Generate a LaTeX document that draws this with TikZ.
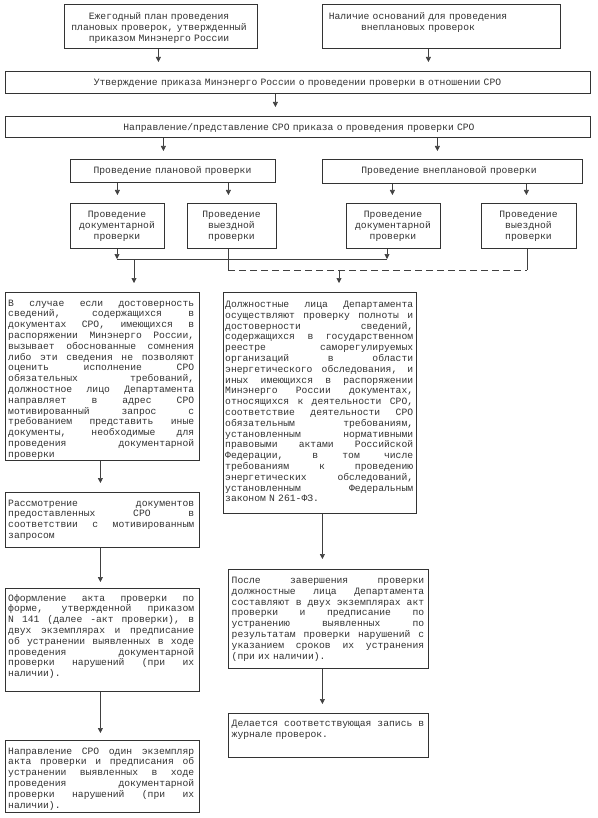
\documentclass[tikz,border=0pt]{standalone}
\usepackage{fontspec}
\newfontfamily\monof{Liberation Mono}
\usetikzlibrary{arrows.meta}
\newcommand\tfont{\monof\fontsize{9.7}{10.8}\selectfont}
\newcommand\jl[1]{\makebox[\linewidth][s]{\spaceskip=0.6em plus 1fil\relax #1}}
\tikzset{
  box/.style={draw=black!80, line width=0.8pt, inner sep=0pt, anchor=north west},
  txt/.style={font=\tfont, text=black!80, inner sep=0pt},
  jtxt/.style={txt, anchor=base west, align=left},
  ctxt/.style={txt, anchor=base, align=center, text width=240pt},
  arr/.style={draw=black!75, line width=0.6pt, -{Triangle[width=5pt,length=5pt]}},
  ln/.style={draw=black!75, line width=0.6pt},
}
\begin{document}
\begin{tikzpicture}[x=1pt,y=-1pt]
\fill[white] (0,0) rectangle (597,818);
\useasboundingbox (0,0) rectangle (597,818);

% top boxes
\node[box, minimum width=193pt, minimum height=44pt] (A) at (64,4) {};
\node[ctxt] (tA) at (159,19.6) {Ежегодный план проведения\\плановых проверок, утвержденный\\приказом Минэнерго России};
\node[box, minimum width=238pt, minimum height=44pt] (B) at (322,4) {};
\node[ctxt] (tB) at (418,19.6) {Наличие оснований для проведения\\внеплановых проверок};

\node[box, minimum width=585pt, minimum height=22pt] (U) at (5,71) {};
\node[ctxt, text width=560pt] (tU) at (297.5,85.6) {Утверждение приказа Минэнерго России о проведении проверки в отношении СРО};
\node[box, minimum width=585pt, minimum height=21pt] (N) at (5,116) {};
\node[ctxt, text width=560pt] (tN) at (299,130.6) {Направление/представление СРО приказа о проведения проверки СРО};

\node[box, minimum width=205pt, minimum height=23pt] (P) at (70,159) {};
\node[ctxt] (tP) at (172.5,173.6) {Проведение плановой проверки};
\node[box, minimum width=260pt, minimum height=24pt] (Q) at (322,159) {};
\node[ctxt] (tQ) at (449,173.6) {Проведение внеплановой проверки};

\node[box, minimum width=94pt, minimum height=45pt] (D1) at (70,203) {};
\node[ctxt] (tD1) at (117,217.6) {Проведение\\документарной\\проверки};
\node[box, minimum width=89pt, minimum height=45pt] (V1) at (187,203) {};
\node[ctxt] (tV1) at (231.5,217.6) {Проведение\\выездной\\проверки};
\node[box, minimum width=94pt, minimum height=45pt] (D2) at (346,203) {};
\node[ctxt] (tD2) at (393,217.6) {Проведение\\документарной\\проверки};
\node[box, minimum width=95pt, minimum height=45pt] (V2) at (481,203) {};
\node[ctxt] (tV2) at (528.5,217.6) {Проведение\\выездной\\проверки};

% lower boxes
\node[box, minimum width=194pt, minimum height=168pt] (L1) at (5,292) {};
\node[jtxt, text width=186pt] (tL1) at (8,306) {\jl{В случае если достоверность}\\
\jl{сведений, содержащихся в}\\
\jl{документах СРО, имеющихся в}\\
\jl{распоряжении Минэнерго России,}\\
\jl{вызывает обоснованные сомнения}\\
\jl{либо эти сведения не позволяют}\\
\jl{оценить исполнение СРО}\\
\jl{обязательных требований,}\\
\jl{должностное лицо Департамента}\\
\jl{направляет в адрес СРО}\\
\jl{мотивированный запрос с}\\
\jl{требованием представить иные}\\
\jl{документы, необходимые для}\\
\jl{проведения документарной}\\
проверки};

\node[box, minimum width=193pt, minimum height=221pt] (R1) at (223,292) {};
\node[jtxt, text width=188pt] (tR1) at (225,307.5) {\jl{Должностные лица Департамента}\\
\jl{осуществляют проверку полноты и}\\
\jl{достоверности сведений,}\\
\jl{содержащихся в государственном}\\
\jl{реестре саморегулируемых}\\
\jl{организаций в области}\\
\jl{энергетического обследования, и}\\
\jl{иных имеющихся в распоряжении}\\
\jl{Минэнерго России документах,}\\
\jl{относящихся к деятельности СРО,}\\
\jl{соответствие деятельности СРО}\\
\jl{обязательным требованиям,}\\
\jl{установленным нормативными}\\
\jl{правовыми актами Российской}\\
\jl{Федерации, в том числе}\\
\jl{требованиям к проведению}\\
\jl{энергетических обследований,}\\
\jl{установленным Федеральным}\\
законом N 261-ФЗ.};

\node[box, minimum width=194pt, minimum height=55pt] (L2) at (5,492) {};
\node[jtxt, text width=186pt] (tL2) at (8,506) {\jl{Рассмотрение документов}\\
\jl{предоставленных СРО в}\\
\jl{соответствии с мотивированным}\\
запросом};

\node[box, minimum width=194pt, minimum height=103pt] (L3) at (5,588) {};
\node[jtxt, text width=186pt] (tL3) at (8,601) {\jl{Оформление акта проверки по}\\
\jl{форме, утвержденной приказом}\\
\jl{N 141 (далее -акт проверки), в}\\
\jl{двух экземплярах и предписание}\\
\jl{об устранении выявленных в ходе}\\
\jl{проведения документарной}\\
\jl{проверки нарушений (при их}\\
наличии).};

\node[box, minimum width=194pt, minimum height=72pt] (L4) at (5,740) {};
\node[jtxt, text width=186pt] (tL4) at (8,754) {\jl{Направление СРО один экземпляр}\\
\jl{акта проверки и предписания об}\\
\jl{устранении выявленных в ходе}\\
\jl{проведения документарной}\\
\jl{проверки нарушений (при их}\\
наличии).};

\node[box, minimum width=200pt, minimum height=99pt] (R2) at (228,569) {};
\node[jtxt, text width=192.5pt] (tR2) at (231.5,583.5) {\jl{После завершения проверки}\\
\jl{должностные лица Департамента}\\
\jl{составляют в двух экземплярах акт}\\
\jl{проверки и предписание по}\\
\jl{устранению выявленных по}\\
\jl{результатам проверки нарушений с}\\
\jl{указанием сроков их устранения}\\
(при их наличии).};

\node[box, minimum width=200pt, minimum height=44pt] (R3) at (228,713) {};
\node[jtxt, text width=192.5pt] (tR3) at (231.5,726.5) {\jl{Делается соответствующая запись в}\\
журнале проверок.};

% connectors top
\coordinate (a1) at ([xshift=-2.5]A.south);
\draw[arr, shorten >=9pt] (a1) -- (a1 |- U.north);
\coordinate (b1) at ([xshift=-13]B.south);
\draw[arr, shorten >=9pt] (b1) -- (b1 |- U.north);
\coordinate (u1) at ([xshift=-22.5]U.south);
\draw[arr, shorten >=9pt] (u1) -- (u1 |- N.north);
\coordinate (n1) at ([xshift=-9.5]P.north);
\draw[arr, shorten >=8pt] (n1 |- N.south) -- (n1);
\coordinate (n2) at ([xshift=-15]Q.north);
\draw[arr, shorten >=8pt] (n2 |- N.south) -- (n2);

\draw[arr, shorten >=8pt] (D1.north |- P.south) -- (D1.north);
\coordinate (v1t) at ([xshift=-3.5]V1.north);
\draw[arr, shorten >=8pt] (v1t |- P.south) -- (v1t);
\coordinate (d2t) at ([xshift=-1]D2.north);
\draw[arr, shorten >=8pt] (d2t |- Q.south) -- (d2t);
\coordinate (v2t) at ([xshift=-2.5]V2.north);
\draw[arr, shorten >=8pt] (v2t |- Q.south) -- (v2t);

% merging lines
\coordinate (j1) at (117,259);
\coordinate (j2) at (387,259);
\coordinate (j3) at (134,259);
\draw[arr] (j1 |- D1.south) -- (j1);
\draw[arr] (j2 |- D2.south) -- (j2);
\draw[ln] (j1) -- (j2);
\draw[arr, shorten >=9pt] (j3) -- (j3 |- L1.north);

\coordinate (k1) at (228,270);
\coordinate (k2) at (527,270);
\coordinate (k3) at (339,270);
\draw[ln] (k1 |- V1.south) -- (k1);
\draw[ln] (k2 |- V2.south) -- (k2);
\draw[ln, dash pattern=on 7pt off 4pt] (k1) -- (k2);
\draw[arr, shorten >=9pt] (k3) -- (k3 |- R1.north);

% left column
\coordinate (l1) at ([xshift=-2]L1.south);
\draw[arr, shorten >=9pt] (l1) -- (l1 |- L2.north);
\coordinate (l2) at ([xshift=-2]L2.south);
\draw[arr, shorten >=6pt] (l2) -- (l2 |- L3.north);
\coordinate (l3) at ([xshift=-2]L3.south);
\draw[arr, shorten >=7pt] (l3) -- (l3 |- L4.north);

% right column
\coordinate (r1) at ([xshift=2.5]R1.south);
\draw[arr, shorten >=10pt] (r1) -- (r1 |- R2.north);
\coordinate (r2) at (r1 |- R2.south);
\draw[arr, shorten >=9pt] (r2) -- (r2 |- R3.north);
\end{tikzpicture}
\end{document}
